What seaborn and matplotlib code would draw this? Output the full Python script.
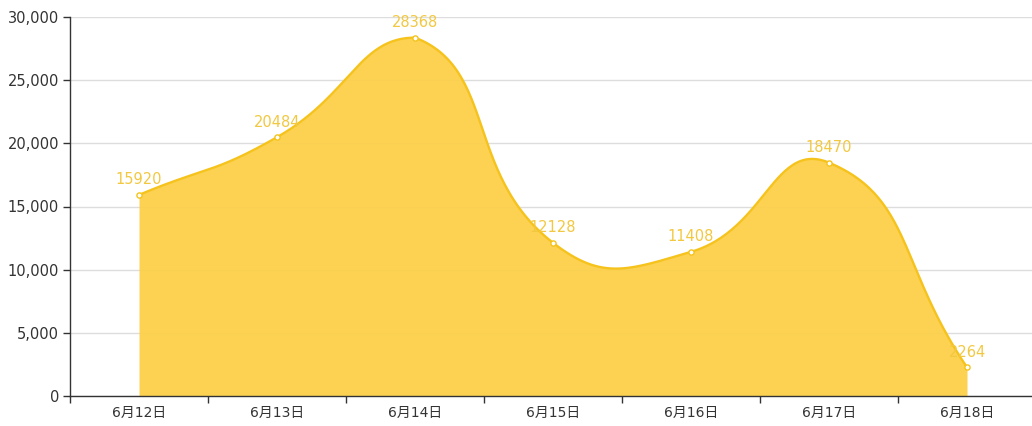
import matplotlib

matplotlib.use("Agg")

import matplotlib.pyplot as plt
import numpy as np
import pandas as pd
import seaborn as sns
from matplotlib.ticker import FuncFormatter


days = ["6月12日", "6月13日", "6月14日", "6月15日", "6月16日", "6月17日", "6月18日"]
counts = [15920, 20484, 28368, 12128, 11408, 18470, 2264]
y_ticks = [0, 5000, 10000, 15000, 20000, 25000, 30000]

LINE_COLOR = "#f5c31c"
FILL_COLOR = "#fdd04a"
LABEL_COLOR = "#f2c840"
TEXT_COLOR = "#333333"


def smooth_bezier(points, smooth=0.5):
    # control points in the same way as a smoothed line chart, clamped to the
    # bounding box of the points
    lo = points.min(axis=0)
    hi = points.max(axis=0)
    n = len(points)
    cps = []
    for i in range(n):
        p = points[i]
        prev_p = points[i - 1] if i > 0 else p
        next_p = points[i + 1] if i < n - 1 else p
        v = (next_p - prev_p) * smooth
        d0 = np.linalg.norm(p - prev_p)
        d1 = np.linalg.norm(p - next_p)
        total = d0 + d1
        if total != 0:
            d0 /= total
            d1 /= total
        cp0 = np.clip(p - v * d0, lo, hi)
        cp1 = np.clip(p + v * d1, lo, hi)
        cps.append((cp0, cp1))

    t = np.linspace(0, 1, 60)[:, None]
    curve = []
    for i in range(n - 1):
        p0 = points[i]
        c1 = cps[i][1]
        c2 = cps[i + 1][0]
        p3 = points[i + 1]
        seg = (
            (1 - t) ** 3 * p0
            + 3 * (1 - t) ** 2 * t * c1
            + 3 * (1 - t) * t ** 2 * c2
            + t ** 3 * p3
        )
        curve.append(seg if i == 0 else seg[1:])
    return np.vstack(curve)


sns.set_theme(style="white")
plt.rcParams["font.family"] = ["DejaVu Sans", "Noto Sans CJK SC"]

fig = plt.figure(figsize=(10.32, 4.26), dpi=100)
ax = fig.add_axes([70 / 1032, 30 / 426, 966 / 1032, 379 / 426])
ax.set_xlim(-0.5, len(days) - 0.5)
ax.set_ylim(0, 30000)

x = np.arange(len(days))
data_pts = np.column_stack([x, counts]).astype(float)
display_pts = ax.transData.transform(data_pts)
curve = ax.transData.inverted().transform(smooth_bezier(display_pts))

smooth_df = pd.DataFrame({"x": curve[:, 0], "y": curve[:, 1]})
df = pd.DataFrame({"x": x, "count": counts})

ax.fill_between(smooth_df["x"], 0, smooth_df["y"], color=FILL_COLOR, alpha=0.95,
                linewidth=0, zorder=2)
sns.lineplot(data=smooth_df, x="x", y="y", ax=ax, color=LINE_COLOR, linewidth=1.7,
             sort=False, estimator=None, zorder=3)
sns.scatterplot(data=df, x="x", y="count", ax=ax, s=14, color="white",
                edgecolor=LINE_COLOR, linewidth=1, zorder=4)

for xi, val in zip(x, counts):
    ax.annotate(str(val), (xi, val), xytext=(0, 5.5), textcoords="offset points",
                ha="center", va="bottom", fontsize=10.5, color=LABEL_COLOR, zorder=5)

ax.set_yticks(y_ticks)
ax.yaxis.set_major_formatter(FuncFormatter(lambda v, _: f"{int(v):,}"))
ax.grid(axis="y", color="#dddddd", linewidth=1, zorder=0)
ax.grid(axis="x", visible=False)

ax.set_xticks(np.arange(-0.5, len(days), 1))
ax.set_xticklabels([])
ax.set_xticks(x, minor=True)
ax.set_xticklabels(days, minor=True)
ax.tick_params(axis="x", which="major", length=5, width=1, color=TEXT_COLOR,
               direction="out", bottom=True)
ax.tick_params(axis="x", which="minor", length=0, pad=7, labelsize=10,
               labelcolor=TEXT_COLOR)
ax.tick_params(axis="y", length=5, width=1, color=TEXT_COLOR, direction="out",
               left=True, pad=3, labelsize=10.5, labelcolor=TEXT_COLOR)

for side in ["top", "right"]:
    ax.spines[side].set_visible(False)
for side in ["left", "bottom"]:
    ax.spines[side].set_color(TEXT_COLOR)
    ax.spines[side].set_linewidth(1)

ax.set_xlabel("")
ax.set_ylabel("")

fig.savefig("out.png", dpi=100)
plt.close(fig)
